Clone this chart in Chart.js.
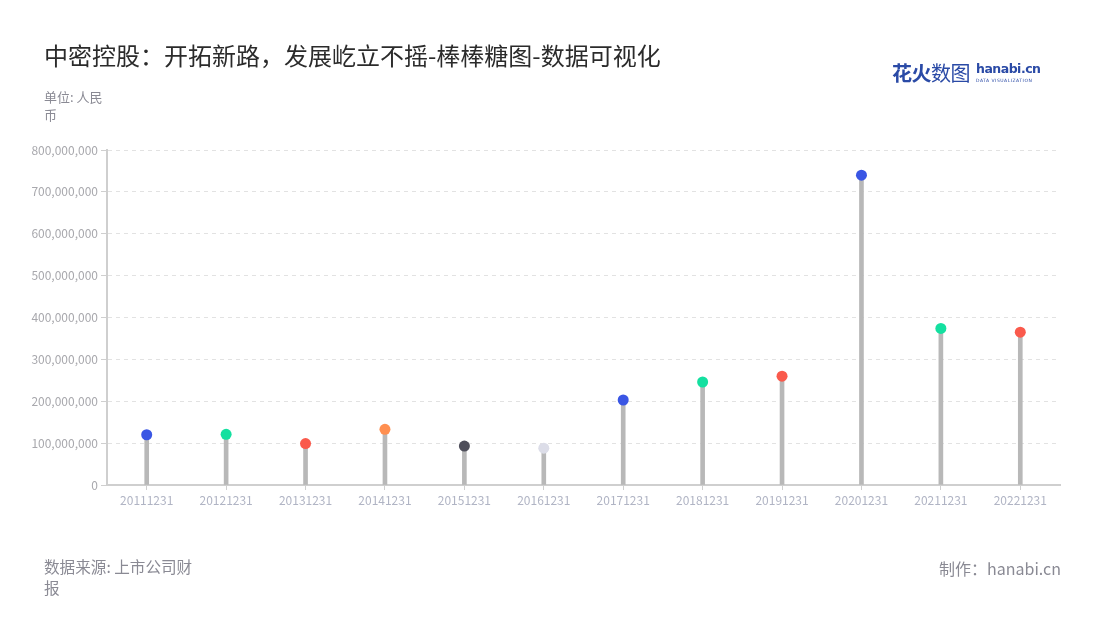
<!DOCTYPE html>
<html>
<head>
<meta charset="utf-8">
<script src="https://cdn.jsdelivr.net/npm/chart.js@4"></script>
<style>
  body { margin: 0; background: #fff; font-family: "Noto Sans CJK SC", "Noto Sans", sans-serif; }
  #wrap { position: relative; width: 1100px; height: 620px; overflow: hidden; }
  #chartBox { position: absolute; left: 0; top: 0; width: 1100px; height: 620px; }
  .txt { position: absolute; white-space: nowrap; }
  #title { left: 44px; top: 37px; font-size: 24px; color: #2b2b2b; }
  #unit { left: 44px; top: 88px; font-size: 13px; color: #8a8a94; line-height: 18px; }
  #source { left: 44px; top: 556px; font-size: 15.6px; color: #8a8a94; line-height: 21px; }
  #maker { right: 39px; top: 556px; font-size: 16px; color: #8a8a94; }
  #logo { left: 892px; top: 58px; color: #2a4aa6; }
  #logo .cn { font-size: 20px; font-weight: 700; letter-spacing: -0.5px; }
  #logo .cn span { font-weight: 400; }
  #logo .en { position: absolute; left: 84px; top: 3px; font-family: "DejaVu Sans", sans-serif; font-size: 12.5px; font-weight: 700; letter-spacing: -0.5px; }
  #logo .sub { position: absolute; left: 84px; top: 20px; font-family: "DejaVu Sans", sans-serif; font-size: 4.5px; letter-spacing: 0.5px; color: #2a4aa6; }
</style>
</head>
<body>
<div id="wrap">
  <div id="chartBox"><canvas id="lollipop"></canvas></div>
  <div class="txt" id="title">中密控股：开拓新路，发展屹立不摇-棒棒糖图-数据可视化</div>
  <div class="txt" id="unit">单位: 人民<br>币</div>
  <div class="txt" id="source">数据来源: 上市公司财<br>报</div>
  <div class="txt" id="maker">制作：hanabi.cn</div>
  <div class="txt" id="logo">
    <div class="cn">花火<span>数图</span></div>
    <div class="en">hanabi.cn</div>
    <div class="sub">DATA VISUALIZATION</div>
  </div>
</div>
<script>
const years = ['20111231','20121231','20131231','20141231','20151231','20161231',
               '20171231','20181231','20191231','20201231','20211231','20221231'];
const values = [120000000, 121000000, 99000000, 133000000, 93000000, 88000000,
                203000000, 246000000, 260000000, 740000000, 374000000, 365000000];
const dotColors = ['#3a56e4','#14e0a0','#fa5a4c','#ff8f50','#4f4f5b','#dcdde8',
                   '#3a56e4','#14e0a0','#fa5a4c','#3a56e4','#14e0a0','#fa5a4c'];
const yTicks = [0,100000000,200000000,300000000,400000000,500000000,600000000,700000000,800000000];

const tickFont = { family: '"Noto Sans CJK SC", "Noto Sans", sans-serif', size: 12 };

new Chart(document.getElementById('lollipop'), {
  type: 'bar',
  data: {
    labels: years,
    datasets: [
      {
        type: 'line',
        data: values,
        showLine: false,
        pointRadius: 5.5,
        pointHoverRadius: 5.5,
        pointBorderWidth: 0,
        pointBackgroundColor: dotColors,
        order: 0
      },
      {
        data: values,
        backgroundColor: '#b8b8b8',
        barThickness: 4,
        order: 1
      }
    ]
  },
  options: {
    responsive: true, maintainAspectRatio: false,
    animation: false,
    layout: { padding: { top: 150, right: 40, bottom: 95, left: 0 } },
    plugins: { legend: { display: false }, tooltip: { enabled: false } },
    scales: {
      x: {
        offset: true,
        grid: { display: true, drawOnChartArea: false, offset: false, tickLength: 5, tickColor: '#cfcfcf' },
        border: { color: '#cfcfcf', width: 2 },
        ticks: { color: '#b0b4c4', font: tickFont, padding: 3, maxRotation: 0 },
        afterFit: s => { s.height = 40; }
      },
      y: {
        min: 0, max: 800000000,
        afterBuildTicks: s => { s.ticks = yTicks.map(v => ({ value: v })); },
        grid: { color: '#e2e2e2', tickColor: '#cfcfcf', tickLength: 6 },
        border: { color: '#cfcfcf', width: 2, dash: [4, 4] },
        ticks: { color: '#a8a8ad', font: tickFont, padding: 3,
                 callback: v => v.toLocaleString('en-US') },
        afterFit: s => { s.width = 107; }
      }
    }
  }
});
</script>
</body>
</html>
